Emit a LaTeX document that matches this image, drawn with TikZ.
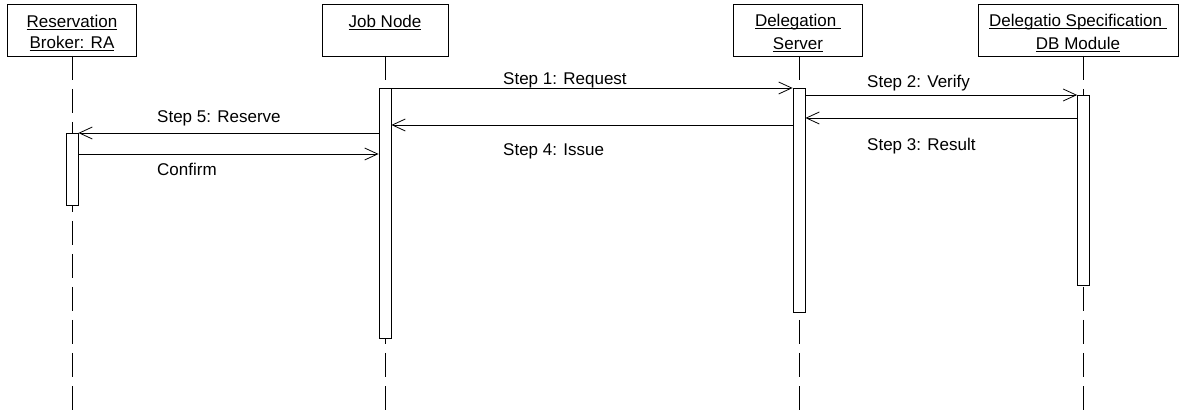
\documentclass[tikz,border=0pt]{standalone}
\usepackage{fontspec}
\setmainfont{Liberation Sans}
\usetikzlibrary{arrows.meta}
\newcommand{\ulx}[1]{{\setbox0\hbox{#1}\rlap{\rule[-2.6pt]{\wd0}{0.8pt}}\box0}}
\newcommand{\lstrut}{\rule[-3pt]{0pt}{21pt}}
\begin{document}
\begin{tikzpicture}[x=1pt,y=-1pt,
  font=\fontsize{17}{21}\selectfont,
  head/.style={draw,line width=0.8pt,anchor=north,minimum height=52pt,inner ysep=0pt,inner xsep=2pt,align=center},
  life/.style={line width=0.8pt,dash pattern=on 24pt off 9pt},
  act/.style={draw,fill=white,line width=0.8pt,minimum width=12pt,inner sep=0pt,anchor=north},
  msg/.style={line width=0.8pt,-{Straight Barb[length=13pt,width=12pt,line width=0.8pt]}},
  lbl/.style={anchor=base west,inner sep=0pt}]
\useasboundingbox (0,0) rectangle (1188,419);

% header boxes
\node[head,minimum width=129pt] (ra) at (72,4) {\ulx{Reservation}\lstrut\\\ulx{Broker: RA}\lstrut};
\node[head,minimum width=126pt] (jn) at (385,4) {\ulx{Job Node}\lstrut\\\lstrut};
\node[head,minimum width=129pt] (ds) at (798,4) {\ulx{Delegation\ }\lstrut\\\ulx{Server}\lstrut};
\node[head,minimum width=200pt] (db) at (1078,4) {\ulx{Delegatio Specification\ }\lstrut\\\ulx{DB Module}\lstrut};

% lifelines
\coordinate (ral) at (72,56);
\coordinate (jnl) at (385,56);
\coordinate (dsl) at (799,56);
\coordinate (dbl) at (1083.5,56);
\draw[life] (ral) -- (ral |- 0,410);
\draw[life] (jnl) -- (jnl |- 0,410);
\draw[life] (dsl) -- (dsl |- 0,410);
\draw[life] (dbl) -- (dbl |- 0,410);

% activation bars
\node[act,minimum height=72pt] (rab) at (72,133) {};
\node[act,minimum height=250pt] (jnb) at (385,88) {};
\node[act,minimum height=224pt] (dsb) at (799,88) {};
\node[act,minimum height=190pt] (dbb) at (1083.5,95) {};

% messages
\draw[msg] (jnb.east |- 0,88) -- (dsb.west |- 0,88);
\draw[msg] (dsb.east |- 0,95) -- (dbb.west |- 0,95);
\draw[msg] (dbb.west |- 0,118) -- (dsb.east |- 0,118);
\draw[msg] (dsb.west |- 0,125) -- (jnb.east |- 0,125);
\draw[msg] (jnb.west |- 0,133) -- (rab.east |- 0,133);
\draw[msg] (rab.east |- 0,154) -- (jnb.west |- 0,154);

% labels
\node[lbl] (l1) at (503,85) {Step 1: Request};
\node[lbl] (l2) at (867,88) {Step 2: Verify};
\node[lbl] (l3) at (867,151) {Step 3: Result};
\node[lbl] (l4) at (503,156) {Step 4: Issue};
\node[lbl] (l5) at (157,123) {Step 5: Reserve};
\node[lbl] (l6) at (157,176) {Confirm};
\end{tikzpicture}
\end{document}
